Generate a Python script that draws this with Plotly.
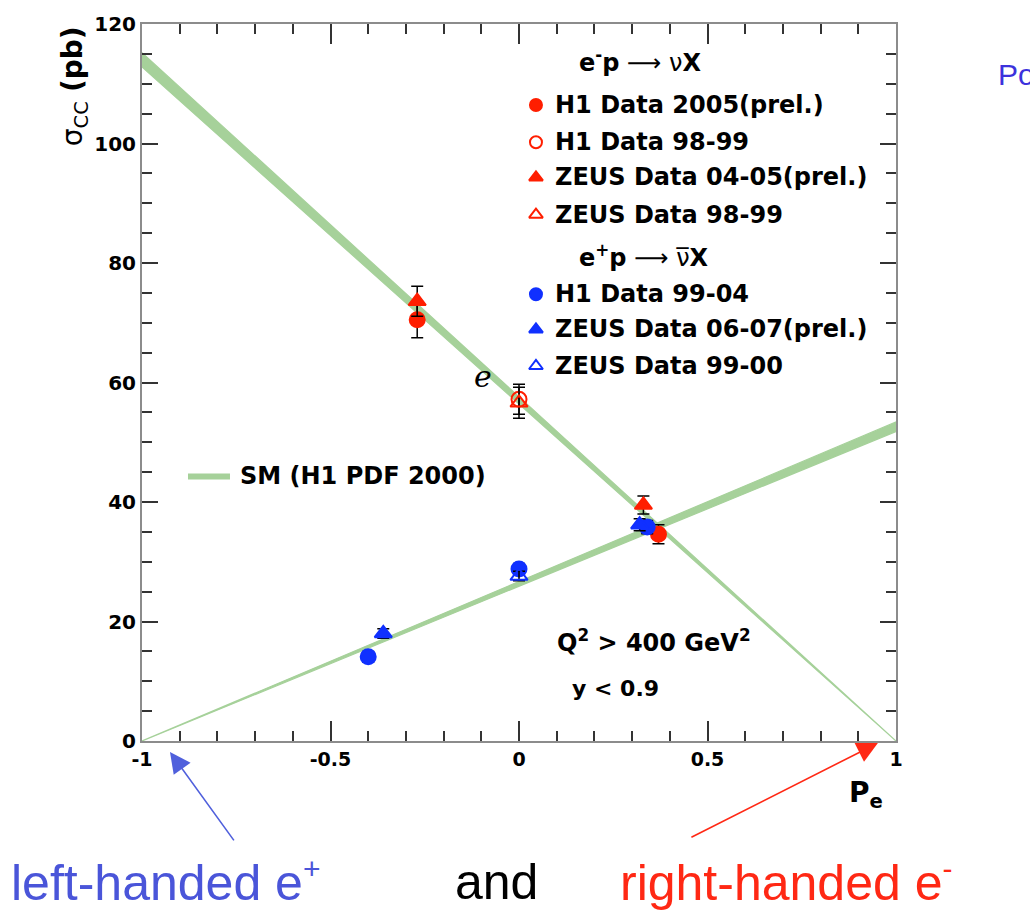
import numpy as np
import plotly.graph_objects as go

# ---- measurements: polarisation, cross section (pb), total error (pb) ----
h1_2005_pol = [-0.27, 0.37]
h1_2005_xsec = [70.5, 34.6]
h1_2005_err = [3.0, 1.6]

h1_9899_pol = [0.0]
h1_9899_xsec = [57.2]
h1_9899_err = [2.5]

zeus_0405_pol = [-0.27, 0.33]
zeus_0405_xsec = [73.6, 39.5]
zeus_0405_err = [2.5, 1.5]

zeus_9899_pol = [0.0]
zeus_9899_xsec = [56.6]
zeus_9899_err = [2.6]

h1_9904_pol = [-0.40, 0.0, 0.34]
h1_9904_xsec = [14.1, 28.8, 35.8]
h1_9904_err = [0.9, 0.9, 1.1]

zeus_0607_pol = [-0.36, 0.32]
zeus_0607_xsec = [18.0, 36.2]
zeus_0607_err = [0.8, 1.0]

zeus_9900_pol = [0.0]
zeus_9900_xsec = [27.6]
zeus_9900_err = [0.8]

# SM expectation: unpolarised cross section band (low, high), scaled by (1 -/+ P)
sm_em_unpol = [56.4, 57.6]
sm_ep_unpol = [25.9, 26.7]

x_ticks = [-1, -0.5, 0, 0.5, 1]
x_tick_text = ["-1", "-0.5", "0", "0.5", "1"]
y_ticks = [0, 20, 40, 60, 80, 100, 120]

RED = "#ff1e00"
BLUE = "#1030ff"
GREEN = "#a6d19a"
BOLD = dict(family="DejaVu Sans", weight="bold", color="black")

fig = go.Figure()

# SM bands
pol = np.linspace(-1, 1, 81)
for unpol, sign in ((sm_em_unpol, -1), (sm_ep_unpol, +1)):
    lo = unpol[0] * (1 + sign * pol)
    hi = unpol[1] * (1 + sign * pol)
    fig.add_trace(go.Scatter(
        x=np.concatenate([pol, pol[::-1]]),
        y=np.concatenate([hi, lo[::-1]]),
        fill="toself", fillcolor=GREEN, mode="lines",
        line=dict(color=GREEN, width=1.2), hoverinfo="skip", showlegend=False))

# data sets
datasets = [
    ("H1 Data 2005(prel.)", h1_2005_pol, h1_2005_xsec, h1_2005_err, "circle", RED),
    ("H1 Data 98-99", h1_9899_pol, h1_9899_xsec, h1_9899_err, "circle-open", RED),
    ("ZEUS Data 04-05(prel.)", zeus_0405_pol, zeus_0405_xsec, zeus_0405_err, "triangle-up", RED),
    ("ZEUS Data 98-99", zeus_9899_pol, zeus_9899_xsec, zeus_9899_err, "triangle-up-open", RED),
    ("H1 Data 99-04", h1_9904_pol, h1_9904_xsec, h1_9904_err, "circle", BLUE),
    ("ZEUS Data 06-07(prel.)", zeus_0607_pol, zeus_0607_xsec, zeus_0607_err, "triangle-up", BLUE),
    ("ZEUS Data 99-00", zeus_9900_pol, zeus_9900_xsec, zeus_9900_err, "triangle-up-open", BLUE),
]
for name, p, s, e, sym, col in datasets:
    fig.add_trace(go.Scatter(
        x=p, y=s, mode="markers", name=name, showlegend=False,
        marker=dict(symbol=sym, size=15, color=col, line=dict(color=col, width=2)),
        error_y=dict(type="data", array=e, visible=True, color="black",
                     thickness=1.5, width=6)))

# hand-built legend on an overlay axis in plot-fraction units
legend_rows_y = [0.887, 0.835, 0.786, 0.734, 0.623, 0.574, 0.523]
legend_marker_x = 0.5225
legend_text_x = 0.545
for (name, p, s, e, sym, col), ly in zip(datasets, legend_rows_y):
    fig.add_trace(go.Scatter(
        x=[legend_marker_x], y=[ly], xaxis="x2", yaxis="y2", mode="markers",
        showlegend=False, hoverinfo="skip",
        marker=dict(symbol=sym, size=12, color=col, line=dict(color=col, width=2))))
    fig.add_annotation(x=legend_text_x, y=ly, xref="paper", yref="paper",
                       text=name, showarrow=False, xanchor="left", yanchor="middle",
                       font=dict(size=24, **BOLD))

fig.add_annotation(x=0.577, y=0.949, xref="paper", yref="paper",
                   text="<b>e<sup>-</sup>p</b> ⟶ ν<b>X</b>", showarrow=False,
                   xanchor="left", yanchor="middle", font=dict(family="DejaVu Sans", size=24, color="black"))
fig.add_annotation(x=0.577, y=0.676, xref="paper", yref="paper",
                   text="<b>e<sup>+</sup>p</b> ⟶ ν\u0305<b>X</b>", showarrow=False,
                   xanchor="left", yanchor="middle", font=dict(family="DejaVu Sans", size=24, color="black"))

# SM legend entry
fig.add_shape(type="line", xref="paper", yref="paper", x0=0.061, x1=0.1167,
              y0=0.369, y1=0.369, line=dict(color=GREEN, width=6))
fig.add_annotation(x=0.127, y=0.369, xref="paper", yref="paper",
                   text="SM (H1 PDF 2000)", showarrow=False, xanchor="left",
                   yanchor="middle", font=dict(size=24, **BOLD))

# kinematic cuts
fig.add_annotation(x=0.548, y=0.139, xref="paper", yref="paper",
                   text="Q<sup>2</sup> > 400 GeV<sup>2</sup>", showarrow=False,
                   xanchor="left", yanchor="middle", font=dict(size=24, **BOLD))
fig.add_annotation(x=0.568, y=0.073, xref="paper", yref="paper",
                   text="y < 0.9", showarrow=False,
                   xanchor="left", yanchor="middle", font=dict(size=22, **BOLD))

# axis titles
fig.add_annotation(x=-0.09, y=1.0, xref="paper", yref="paper",
                   text="σ<sub>CC</sub> <b>(pb)</b>", showarrow=False, textangle=-90,
                   xanchor="center", yanchor="top",
                   font=dict(family="DejaVu Sans", size=28, color="black"))
fig.add_annotation(x=0.96, y=-0.075, xref="paper", yref="paper",
                   text="P<sub>e</sub>", showarrow=False,
                   xanchor="center", yanchor="middle", font=dict(size=28, **BOLD))

# handwritten mark and cut-off heading
fig.add_annotation(x=0.452, y=0.508, xref="paper", yref="paper", text="e",
                   showarrow=False, font=dict(family="DejaVu Serif", size=30,
                                              style="italic", color="black"))
fig.add_annotation(x=1.133, y=0.93, xref="paper", yref="paper", text="Po",
                   showarrow=False, xanchor="left", yanchor="middle",
                   font=dict(family="Liberation Sans", size=30, color="#3c32dc"))

# helicity arrows and captions
fig.add_annotation(x=0.0371, y=-0.0152, xref="paper", yref="paper", text="",
                   showarrow=True, ax=65, ay=90, arrowhead=2, arrowsize=2.6,
                   arrowwidth=1.6, arrowcolor="#5060dc")
fig.add_annotation(x=0.976, y=-0.0028, xref="paper", yref="paper", text="",
                   showarrow=True, ax=-188, ay=95, arrowhead=2, arrowsize=2.6,
                   arrowwidth=1.6, arrowcolor="#ff2814")
caption_y = -0.196
fig.add_annotation(x=(165 - 142) / 754, y=caption_y, xref="paper", yref="paper",
                   text="left-handed e<sup><span style='font-size:30px'>+</span></sup>",
                   showarrow=False, xanchor="center", yanchor="middle",
                   font=dict(family="Liberation Sans", size=50, color="#4a55d9"))
fig.add_annotation(x=(496 - 142) / 754, y=caption_y, xref="paper", yref="paper",
                   text="and", showarrow=False, xanchor="center", yanchor="middle",
                   font=dict(family="Liberation Sans", size=50, color="black"))
fig.add_annotation(x=(786 - 142) / 754, y=caption_y, xref="paper", yref="paper",
                   text="right-handed e<sup><span style='font-size:30px'>-</span></sup>",
                   showarrow=False, xanchor="center", yanchor="middle",
                   font=dict(family="Liberation Sans", size=50, color="#ff2814"))

axis_common = dict(
    showgrid=False, zeroline=False, showline=True, linecolor="#8c8c8c",
    linewidth=2, mirror="ticks", ticks="inside", tickcolor="#333333",
    tickwidth=1.5)

fig.update_layout(
    width=1030, height=911,
    margin=dict(l=142, r=134, t=15, b=170),
    paper_bgcolor="white", plot_bgcolor="white",
    xaxis=dict(range=[-1, 1], tickvals=x_ticks, ticktext=x_tick_text,
               ticklen=20, tickfont=dict(size=19, **BOLD),
               minor=dict(dtick=0.1, ticks="inside", ticklen=10,
                          tickcolor="#333333", tickwidth=1.5, showgrid=False),
               **axis_common),
    yaxis=dict(range=[0, 120], tickvals=y_ticks, ticklen=16,
               tickfont=dict(size=20, **BOLD),
               minor=dict(dtick=5, ticks="inside", ticklen=10,
                          tickcolor="#333333", tickwidth=1.5, showgrid=False),
               **axis_common),
    xaxis2=dict(range=[0, 1], overlaying="x", visible=False),
    yaxis2=dict(range=[0, 1], overlaying="y", visible=False),
)

fig.write_html("out.html")
